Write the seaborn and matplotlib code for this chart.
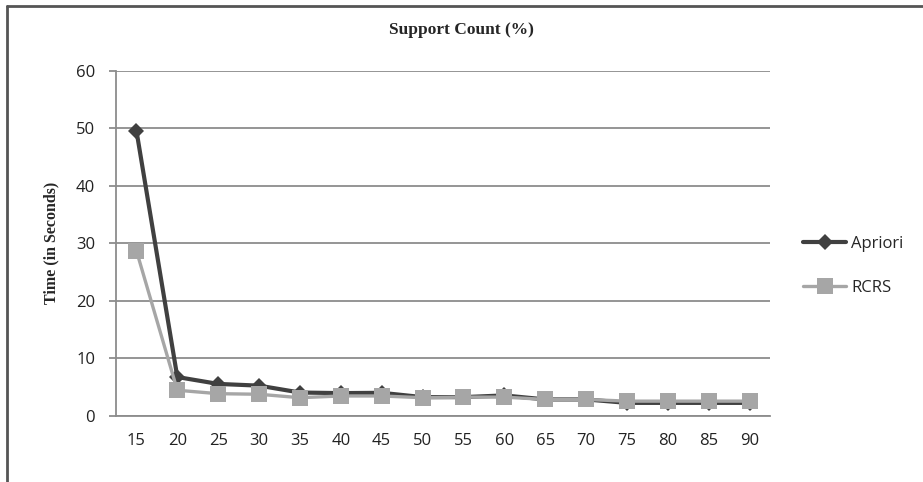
import matplotlib
matplotlib.use("Agg")
import matplotlib.pyplot as plt
from matplotlib.lines import Line2D
import seaborn as sns
import pandas as pd

# Support count thresholds (%) and run times in seconds
support = [15, 20, 25, 30, 35, 40, 45, 50, 55, 60, 65, 70, 75, 80, 85, 90]
apriori = [49.6, 6.7, 5.5, 5.2, 4.0, 3.9, 3.95, 3.2, 3.2, 3.5, 2.8, 2.8, 2.2, 2.2, 2.2, 2.2]
rcrs = [28.7, 4.4, 3.8, 3.7, 3.1, 3.4, 3.4, 3.1, 3.2, 3.2, 2.8, 2.8, 2.5, 2.5, 2.5, 2.5]
series_names = ["Apriori", "RCRS"]
y_ticks = [0, 10, 20, 30, 40, 50, 60]

dark = "#404040"
light = "#a6a6a6"
grid_c = "#8c8c8c"

sns.set_style("white")
plt.rcParams["font.family"] = ["Open Sans", "DejaVu Sans"]

pos = list(range(len(support)))
df = pd.DataFrame({
    "pos": pos * 2,
    "time": apriori + rcrs,
    "algo": [series_names[0]] * len(support) + [series_names[1]] * len(support),
})

fig = plt.figure(figsize=(9.23, 4.82), dpi=100)
ax = fig.add_axes([116 / 923, 1 - 415.5 / 482, (770 - 116) / 923, (415.5 - 71) / 482])

sns.lineplot(
    data=df, x="pos", y="time", hue="algo", style="algo",
    palette={"Apriori": dark, "RCRS": light},
    markers={"Apriori": "D", "RCRS": "s"}, dashes=False,
    markersize=11, linewidth=3, markeredgewidth=0,
    ax=ax, legend=False,
)
# the diamond for Apriori is smaller and its line heavier than RCRS
for line in ax.lines:
    if line.get_marker() == "D":
        line.set_markersize(8.5)
        line.set_zorder(3)
    elif line.get_marker() == "s":
        line.set_linewidth(2.4)
        line.set_zorder(4)

ax.set_xlim(-0.5, len(support) - 0.5)
ax.set_ylim(0, 60)
ax.set_xticks(pos)
ax.set_xticklabels([str(s) for s in support])
ax.set_yticks(y_ticks)
ax.set_yticklabels([str(v) for v in y_ticks])
ax.yaxis.grid(True, color=grid_c, linewidth=1.3)
ax.set_axisbelow(True)
for side in ("top", "right"):
    ax.spines[side].set_visible(False)
for side in ("left", "bottom"):
    ax.spines[side].set_color(grid_c)
    ax.spines[side].set_linewidth(1.3)
ax.tick_params(axis="y", which="major", left=True, length=5, width=1.3,
               color=grid_c, labelsize=12, labelcolor="#222222", pad=10)
ax.tick_params(axis="x", which="major", bottom=False, labelsize=12,
               labelcolor="#222222", pad=9)
ax.set_xlabel("")
ax.set_ylabel("Time (in Seconds)", family="Liberation Serif", fontweight="bold",
              fontsize=11.5, labelpad=12)

fig.text(461 / 923, 1 - 30 / 482, "Support Count (%)", family="Liberation Serif",
         fontweight="bold", fontsize=12.5, ha="center", va="center")

handles = [
    Line2D([], [], color=dark, lw=3, marker="D", markersize=8.5, markeredgewidth=0),
    Line2D([], [], color=light, lw=2.4, marker="s", markersize=11, markeredgewidth=0),
]
fig.legend(handles, series_names, loc="center left",
           bbox_to_anchor=(788 / 923, 1 - 266 / 482), frameon=False,
           fontsize=12, handlelength=2.6, handletextpad=0.3, labelspacing=1.65)

# outer frame lines
fig.add_artist(Line2D([7 / 923, 7 / 923], [0, 1 - 6 / 482], transform=fig.transFigure,
                      color="#555555", lw=2))
fig.add_artist(Line2D([7 / 923, 1], [1 - 6 / 482, 1 - 6 / 482], transform=fig.transFigure,
                      color="#555555", lw=2))

fig.savefig("out.png", dpi=100)
